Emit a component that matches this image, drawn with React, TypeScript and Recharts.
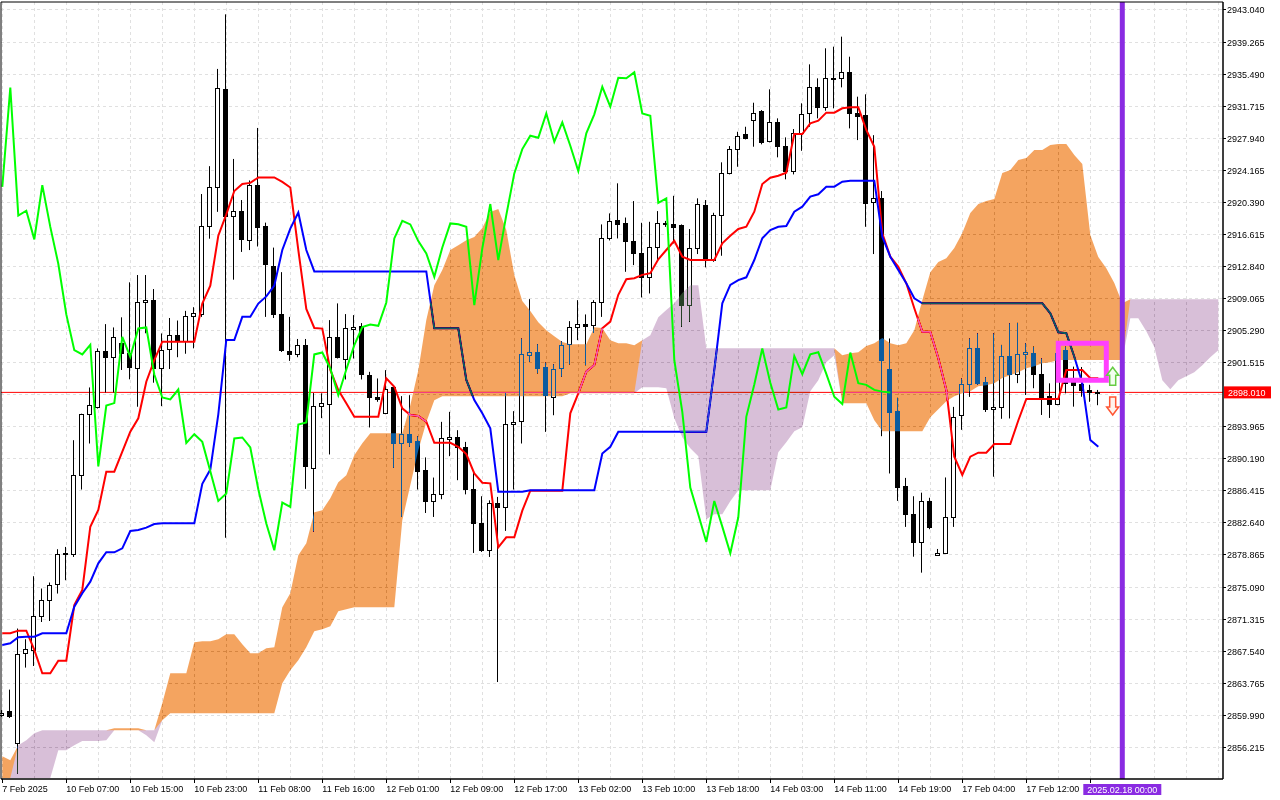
import React from "react";
import {
  ComposedChart,
  Bar,
  Line,
  Area,
  XAxis,
  YAxis,
  CartesianGrid,
  ReferenceLine,
  ReferenceArea,
  ReferenceDot,
} from "recharts";

// H1 candles, one entry per bar (index = bar number from the left edge)
const opens = [
  2860.0, 2860.45, 2856.72, 2867.37, 2867.72, 2871.65, 2873.61, 2875.5, 2879.0, 2879.03,
  2888.34, 2895.41, 2896.3, 2902.87, 2902.19, 2903.79, 2902.6, 2900.85, 2908.62, 2908.89,
  2900.9, 2903.07, 2904.8, 2904.03, 2906.98, 2907.19, 2917.58, 2922.21, 2933.7, 2918.84,
  2919.4, 2915.9, 2922.42, 2917.58, 2912.95, 2907.19, 2902.9, 2902.48, 2903.62, 2889.09,
  2896.46, 2896.59, 2904.48, 2902.0, 2905.46, 2905.81, 2900.04, 2897.48, 2895.53, 2898.66,
  2892.06, 2893.09, 2892.26, 2888.85, 2885.23, 2886.1, 2892.5, 2892.77, 2891.59, 2886.61,
  2882.57, 2879.5, 2885.0, 2884.52, 2894.23, 2894.62, 2902.4, 2902.71, 2900.95, 2897.48,
  2900.83, 2903.65, 2905.66, 2906.05, 2905.93, 2908.6, 2916.14, 2918.3, 2917.9, 2915.83,
  2914.38, 2911.55, 2915.08, 2917.98, 2917.83, 2917.71, 2908.29, 2914.97, 2920.07, 2913.6,
  2918.89, 2923.8, 2926.66, 2928.4, 2930.08, 2931.14, 2927.64, 2929.81, 2927.02, 2924.1,
  2928.51, 2930.87, 2934.0, 2931.65, 2935.06, 2935.06, 2935.7, 2930.87, 2930.67, 2920.46,
  2920.86, 2900.71, 2895.8, 2886.96, 2883.63, 2880.43, 2885.22, 2878.82, 2879.06, 2883.3,
  2895.32, 2898.94, 2903.2, 2899.27, 2896.0, 2896.3, 2902.3, 2900.15, 2902.5, 2902.68,
  2900.2, 2897.58, 2896.64, 2903.0, 2899.2, 2899.0, 2898.3, 2898.1,
];

const highs = [
  2860.6, 2863.01, 2870.2, 2868.94, 2876.36, 2874.91, 2875.62, 2879.54, 2879.81, 2892.38,
  2895.5, 2898.59, 2903.19, 2906.05, 2905.66, 2906.85, 2910.97, 2911.83, 2911.83, 2910.18,
  2904.95, 2906.77, 2906.47, 2907.61, 2908.04, 2921.37, 2924.65, 2936.1, 2942.53, 2925.5,
  2920.66, 2922.97, 2929.15, 2918.0, 2915.06, 2912.17, 2906.9, 2904.3, 2904.3, 2897.93,
  2897.9, 2906.52, 2908.49, 2907.23, 2907.11, 2906.17, 2900.43, 2899.65, 2900.63, 2898.86,
  2897.57, 2897.68, 2892.85, 2890.35, 2887.98, 2894.54, 2895.72, 2893.56, 2892.18, 2888.65,
  2885.78, 2885.3, 2885.7, 2897.95, 2895.8, 2904.36, 2908.99, 2903.69, 2901.53, 2901.33,
  2904.04, 2906.4, 2908.87, 2907.19, 2908.87, 2917.79, 2919.09, 2922.63, 2918.6, 2920.54,
  2917.98, 2918.1, 2919.36, 2918.2, 2921.16, 2917.79, 2917.24, 2920.86, 2920.66, 2919.16,
  2925.1, 2927.02, 2928.7, 2929.29, 2932.12, 2931.26, 2933.7, 2930.28, 2928.04, 2929.02,
  2932.05, 2936.64, 2934.99, 2938.53, 2938.72, 2939.9, 2937.54, 2932.83, 2933.11, 2928.3,
  2921.72, 2904.36, 2897.37, 2887.94, 2885.78, 2886.2, 2885.6, 2879.57, 2887.99, 2896.3,
  2899.65, 2904.36, 2904.97, 2899.8, 2904.97, 2903.6, 2906.15, 2906.2, 2903.8, 2903.4,
  2902.02, 2899.08, 2903.39, 2903.4, 2901.04, 2901.0, 2898.9, 2898.3,
];

const lows = [
  2859.8, 2859.66, 2853.11, 2865.6, 2865.79, 2870.97, 2871.09, 2874.32, 2875.89, 2878.63,
  2886.57, 2891.99, 2896.11, 2898.0, 2898.0, 2900.65, 2899.55, 2896.32, 2904.97, 2899.15,
  2896.39, 2900.76, 2902.15, 2902.56, 2903.2, 2906.9, 2916.11, 2919.27, 2880.89, 2911.28,
  2914.55, 2914.77, 2915.19, 2906.9, 2906.77, 2902.77, 2901.72, 2902.15, 2886.65, 2881.61,
  2894.98, 2890.7, 2902.0, 2899.53, 2902.0, 2899.53, 2893.88, 2896.9, 2895.44, 2889.12,
  2883.34, 2891.59, 2886.57, 2883.81, 2883.34, 2885.43, 2890.5, 2887.67, 2886.0, 2879.1,
  2879.22, 2878.63, 2863.9, 2881.7, 2886.57, 2891.99, 2901.6, 2900.24, 2893.36, 2895.32,
  2899.84, 2901.3, 2904.16, 2901.2, 2905.0, 2906.9, 2915.9, 2916.14, 2912.21, 2913.0,
  2909.19, 2909.66, 2913.6, 2917.5, 2915.55, 2905.73, 2906.32, 2914.3, 2912.73, 2913.39,
  2914.1, 2923.68, 2924.58, 2927.8, 2926.94, 2927.22, 2927.45, 2925.69, 2923.1, 2923.68,
  2926.46, 2929.29, 2930.28, 2931.18, 2931.46, 2933.93, 2929.1, 2927.72, 2917.51, 2914.3,
  2892.85, 2888.46, 2885.23, 2882.17, 2878.66, 2876.78, 2881.9, 2878.8, 2879.0, 2882.17,
  2893.6, 2897.48, 2898.9, 2895.7, 2888.08, 2894.9, 2894.94, 2899.1, 2897.7, 2898.5,
  2895.35, 2895.0, 2896.5, 2897.9, 2896.33, 2897.5, 2896.9, 2896.5,
];

const closes = [
  2860.3, 2859.9, 2867.25, 2867.76, 2871.65, 2873.61, 2875.38, 2878.92, 2879.1, 2888.34,
  2895.41, 2896.47, 2902.87, 2902.12, 2904.48, 2902.68, 2900.97, 2908.62, 2908.86, 2900.85,
  2903.05, 2904.8, 2904.03, 2907.06, 2907.4, 2917.58, 2922.21, 2933.91, 2918.84, 2919.4,
  2916.03, 2922.42, 2917.5, 2913.16, 2907.19, 2902.98, 2902.48, 2903.62, 2889.3, 2896.46,
  2896.75, 2904.55, 2902.19, 2905.54, 2905.66, 2900.12, 2897.41, 2897.18, 2898.35, 2892.06,
  2893.09, 2892.18, 2888.73, 2885.23, 2886.1, 2892.58, 2892.7, 2891.52, 2886.61, 2882.57,
  2879.42, 2885.04, 2884.52, 2894.23, 2894.47, 2902.48, 2902.71, 2900.83, 2897.68, 2900.71,
  2903.57, 2905.69, 2906.01, 2905.85, 2908.6, 2916.14, 2918.22, 2917.79, 2915.83, 2914.38,
  2911.62, 2915.08, 2917.91, 2917.8, 2917.51, 2908.29, 2914.97, 2920.19, 2913.6, 2918.89,
  2923.8, 2926.66, 2928.23, 2928.0, 2930.87, 2927.52, 2929.81, 2927.05, 2924.07, 2928.51,
  2930.75, 2934.0, 2931.65, 2935.06, 2935.0, 2935.7, 2930.87, 2930.59, 2920.34, 2920.86,
  2901.8, 2895.72, 2886.81, 2883.63, 2880.4, 2885.22, 2882.2, 2879.06, 2883.3, 2895.13,
  2898.94, 2903.18, 2899.15, 2896.0, 2896.24, 2902.3, 2900.15, 2902.5, 2902.73, 2900.2,
  2897.5, 2896.64, 2902.7, 2899.1, 2898.9, 2898.3, 2898.1, 2898.01,
];

// Ichimoku lines
const tenkan = [
  2869.64, 2869.64, 2869.95, 2869.95, 2867.68, 2864.93, 2864.93, 2866.41, 2866.41, 2872.97,
  2874.74, 2882.19, 2884.16, 2888.67, 2888.67, 2891.03, 2893.38, 2894.96, 2899.27, 2901.82,
  2903.98, 2903.98, 2903.98, 2903.98, 2903.98, 2908.47, 2910.57, 2916.46, 2918.98, 2921.73,
  2922.55, 2922.68, 2923.32, 2923.32, 2923.32, 2922.79, 2922.14, 2914.78, 2907.83, 2905.6,
  2905.52, 2900.65, 2898.29, 2896.72, 2895.15, 2895.15, 2895.15, 2895.15, 2899.67, 2898.68,
  2896.13, 2895.35, 2895.23, 2894.56, 2892.08, 2892.08, 2892.08, 2891.61, 2890.75, 2888.47,
  2887.37, 2887.3, 2879.76, 2880.94, 2880.94, 2884.09, 2886.44, 2886.44, 2886.44, 2886.44,
  2886.44, 2895.55, 2897.9, 2900.45, 2901.24, 2905.56, 2906.35, 2909.5, 2911.34, 2911.46,
  2911.85, 2912.05, 2913.68, 2914.78, 2915.87, 2913.99, 2913.6, 2913.6, 2913.6, 2913.6,
  2915.57, 2916.46, 2917.25, 2917.52, 2919.29, 2922.55, 2923.29, 2923.53, 2923.88, 2928.44,
  2928.44, 2929.7, 2930.0, 2930.95, 2930.95, 2931.46, 2931.58, 2931.58, 2928.91, 2926.94,
  2916.74, 2913.99, 2912.81, 2910.86, 2907.91, 2905.16, 2905.16, 2902.02, 2898.29, 2890.44,
  2888.28, 2890.44, 2890.91, 2890.91, 2891.93, 2891.93, 2891.93, 2894.7, 2897.23, 2897.23,
  2897.23, 2897.23, 2897.23, 2900.65, 2900.65, 2900.65, 2899.67, 2899.67,
];

const kijun = [
  2868.26, 2868.46, 2869.17, 2869.24, 2869.24, 2869.64, 2869.64, 2869.64, 2869.64, 2872.77,
  2874.35, 2875.72, 2877.88, 2879.18, 2879.18, 2879.65, 2881.69, 2881.8, 2882.08, 2882.51,
  2882.6, 2882.6, 2882.6, 2882.6, 2882.6, 2887.24, 2888.92, 2895.43, 2904.18, 2904.18,
  2906.91, 2906.91, 2908.47, 2909.31, 2910.58, 2914.78, 2917.3, 2919.19, 2914.78, 2912.26,
  2912.26, 2912.26, 2912.26, 2912.26, 2912.26, 2912.26, 2912.26, 2912.26, 2912.26, 2912.26,
  2912.26, 2912.26, 2912.26, 2912.26, 2905.55, 2905.55, 2905.55, 2905.55, 2899.47, 2897.11,
  2895.55, 2893.78, 2886.31, 2886.31, 2886.31, 2886.31, 2886.49, 2886.49, 2886.49, 2886.49,
  2886.49, 2886.49, 2886.49, 2886.49, 2886.49, 2890.82, 2891.6, 2893.38, 2893.38, 2893.38,
  2893.38, 2893.38, 2893.38, 2893.38, 2893.38, 2893.38, 2893.38, 2893.38, 2893.38, 2900.65,
  2908.5, 2910.66, 2911.24, 2911.56, 2913.6, 2916.16, 2917.13, 2917.52, 2917.6, 2919.29,
  2919.88, 2921.06, 2921.34, 2922.23, 2922.23, 2922.82, 2922.94, 2922.94, 2922.94, 2922.94,
  2916.35, 2913.99, 2912.42, 2910.86, 2909.09, 2908.5, 2908.5, 2908.5, 2908.5, 2908.5,
  2908.5, 2908.5, 2908.5, 2908.5, 2908.5, 2908.5, 2908.5, 2908.5, 2908.5, 2908.5,
  2908.5, 2907.32, 2905.09, 2904.97, 2902.21, 2899.08, 2892.4, 2891.61,
];

const chikou = [
  2922.21, 2933.91, 2918.84, 2919.4, 2916.03, 2922.42, 2917.5, 2913.16, 2907.19, 2902.98,
  2902.48, 2903.62, 2889.3, 2896.46, 2896.75, 2904.55, 2902.19, 2905.54, 2905.66, 2900.12,
  2897.41, 2897.18, 2898.35, 2892.06, 2893.09, 2892.18, 2888.73, 2885.23, 2886.1, 2892.58,
  2892.7, 2891.52, 2886.61, 2882.57, 2879.42, 2885.04, 2884.52, 2894.23, 2894.47, 2902.48,
  2902.71, 2900.83, 2897.68, 2900.71, 2903.57, 2905.69, 2906.01, 2905.85, 2908.6, 2916.14,
  2918.22, 2917.79, 2915.83, 2914.38, 2911.62, 2915.08, 2917.91, 2917.8, 2917.51, 2908.29,
  2914.97, 2920.19, 2913.6, 2918.89, 2923.8, 2926.66, 2928.23, 2928.0, 2930.87, 2927.52,
  2929.81, 2927.05, 2924.07, 2928.51, 2930.75, 2934.0, 2931.65, 2935.06, 2935.0, 2935.7,
  2930.87, 2930.59, 2920.34, 2920.86, 2901.8, 2895.72, 2886.81, 2883.63, 2880.4, 2885.22,
  2882.2, 2879.06, 2883.3, 2895.13, 2898.94, 2903.18, 2899.15, 2896.0, 2896.24, 2902.3,
  2900.15, 2902.5, 2902.73, 2900.2, 2897.5, 2896.64, 2902.7, 2899.1, 2898.9, 2898.3,
  2898.1, 2898.01,
];

// cloud edges, running 15 bars past the last candle
const spanA = [
  2855.15, 2854.68, 2852.6, 2852.6, 2852.6, 2852.6, 2852.6, 2855.86, 2855.86, 2856.45,
  2856.96, 2856.96, 2856.96, 2857.04, 2858.45, 2858.45, 2858.45, 2858.45, 2857.63, 2856.8,
  2861.4, 2864.93, 2864.93, 2864.93, 2868.58, 2868.7, 2868.7, 2868.94, 2869.52, 2869.52,
  2868.35, 2867.29, 2867.29, 2867.88, 2867.99, 2872.71, 2874.36, 2878.83, 2880.25, 2883.9,
  2884.13, 2885.55, 2887.43, 2888.26, 2890.61, 2892.03, 2893.21, 2893.21, 2893.21, 2893.21,
  2893.21, 2896.5, 2900.63, 2906.52, 2910.64, 2912.41, 2914.77, 2915.35, 2915.94, 2916.3,
  2917.36, 2919.24, 2919.6, 2917.12, 2911.82, 2908.76, 2907.58, 2906.28, 2905.34, 2904.63,
  2903.93, 2903.69, 2903.69, 2903.69, 2905.69, 2905.58, 2904.16, 2903.81, 2903.81, 2903.57,
  2898.62, 2898.62, 2898.62, 2898.51, 2894.97, 2892.73, 2891.44, 2890.5, 2883.07, 2883.66,
  2883.66, 2885.19, 2886.49, 2886.49, 2886.49, 2886.49, 2886.49, 2890.97, 2892.15, 2893.44,
  2893.91, 2898.15, 2899.45, 2901.57, 2902.39, 2902.39, 2902.63, 2902.75, 2903.46, 2903.81,
  2904.4, 2903.81, 2903.57, 2903.81, 2905.34, 2908.87, 2912.17, 2913.35, 2913.82, 2915.0,
  2916.77, 2919.12, 2920.18, 2920.54, 2920.77, 2923.84, 2924.19, 2925.37, 2925.6, 2926.55,
  2926.55, 2927.14, 2927.25, 2927.25, 2925.96, 2924.9, 2916.53, 2913.94, 2912.64, 2910.88,
  2908.52, 2906.75, 2906.75, 2905.22, 2903.34, 2899.45, 2898.39, 2899.45, 2899.92, 2900.39,
  2901.22, 2902.16, 2902.98,
];

const spanB = [
  2852.6, 2852.6, 2856.45, 2857.04, 2857.86, 2858.22, 2858.22, 2858.22, 2858.22, 2858.22,
  2858.22, 2858.22, 2858.22, 2858.22, 2858.22, 2858.22, 2858.22, 2858.22, 2858.22, 2858.22,
  2859.39, 2860.22, 2860.22, 2860.22, 2860.22, 2860.22, 2860.22, 2860.22, 2860.22, 2860.22,
  2860.22, 2860.22, 2860.22, 2860.22, 2860.22, 2863.75, 2865.28, 2866.46, 2867.99, 2869.88,
  2870.11, 2870.47, 2872.23, 2872.47, 2872.71, 2872.71, 2872.71, 2872.71, 2872.71, 2872.71,
  2882.96, 2887.08, 2891.2, 2894.5, 2897.09, 2897.56, 2897.56, 2897.56, 2897.56, 2897.56,
  2897.56, 2897.56, 2897.56, 2897.56, 2897.56, 2897.56, 2897.56, 2897.56, 2897.56, 2897.56,
  2897.56, 2897.92, 2897.92, 2897.92, 2897.92, 2897.92, 2897.92, 2897.92, 2897.92, 2897.92,
  2904.16, 2904.75, 2906.87, 2907.7, 2908.52, 2909.7, 2910.64, 2910.64, 2903.22, 2903.22,
  2903.22, 2903.22, 2903.22, 2903.22, 2903.22, 2903.22, 2903.22, 2903.22, 2903.22, 2903.22,
  2903.22, 2903.22, 2903.22, 2903.22, 2903.22, 2896.74, 2896.74, 2896.74, 2896.74, 2894.74,
  2893.44, 2893.44, 2893.44, 2893.44, 2893.44, 2893.44, 2895.09, 2896.03, 2896.98, 2897.56,
  2897.92, 2898.15, 2898.74, 2898.86, 2899.1, 2899.69, 2900.04, 2900.39, 2900.86, 2901.1,
  2901.45, 2901.57, 2901.81, 2901.81, 2901.81, 2901.81, 2901.81, 2901.81, 2901.81, 2901.81,
  2901.81, 2908.99, 2908.99, 2908.99, 2908.99, 2908.99, 2908.99, 2908.99, 2908.99, 2908.99,
  2908.99, 2908.99, 2908.99,
];

const priceTicks = [
  2943.04, 2939.265, 2935.49, 2931.715, 2927.94, 2924.165, 2920.39, 2916.615,
  2912.84, 2909.065, 2905.29, 2901.515, 2897.74, 2893.965, 2890.19, 2886.415,
  2882.64, 2878.865, 2875.09, 2871.315, 2867.54, 2863.765, 2859.99, 2856.215,
];

const timeTicks = [0, 8, 16, 24, 32, 40, 48, 56, 64, 72, 80, 88, 96, 104, 112, 120, 128, 136, 140];
const timeLabels: Record<number, string> = {
  0: "7 Feb 2025",
  8: "10 Feb 07:00",
  16: "10 Feb 15:00",
  24: "10 Feb 23:00",
  32: "11 Feb 08:00",
  40: "11 Feb 16:00",
  48: "12 Feb 01:00",
  56: "12 Feb 09:00",
  64: "12 Feb 17:00",
  72: "13 Feb 02:00",
  80: "13 Feb 10:00",
  88: "13 Feb 18:00",
  96: "14 Feb 03:00",
  104: "14 Feb 11:00",
  112: "14 Feb 19:00",
  120: "17 Feb 04:00",
  128: "17 Feb 12:00",
};
const gridBars = [
  0, 4, 8, 12, 16, 20, 24, 28, 32, 36, 40, 44, 48, 52, 56, 60, 64, 68, 72, 76,
  80, 84, 88, 92, 96, 100, 104, 108, 112, 116, 120, 124, 128, 132, 136, 140, 144, 148, 152,
];

const lastPrice = 2898.01;
const markerBar = 140;
const markerLabel = "2025.02.18 00:00";

const X_MIN = -0.1625;
const X_MAX = 152.5875;
const Y_MIN = 2852.482;
const Y_MAX = 2943.982;

const FONT = "'Liberation Sans', Arial, sans-serif";

// both halves of the cloud collapse onto span B where they are inactive,
// so the two fills meet along one edge instead of overlapping
const data = spanA.map((a, k) => {
  const b = spanB[k];
  return {
    k,
    o: opens[k],
    h: highs[k],
    l: lows[k],
    c: closes[k],
    tenkan: tenkan[k],
    kijun: kijun[k],
    chikou: chikou[k],
    bull: a > b ? [b, a] : [b, b],
    bear: a < b ? [a, b] : [b, b],
  };
});

function Candle(props: any) {
  const { x, y, width, height, payload } = props;
  if (!payload || payload.h == null || !Number.isFinite(y)) return <g />;
  const top = Math.min(y, y + height);
  const bottom = Math.max(y, y + height);
  const span = payload.h - payload.l || 1;
  const py = (p: number) => top + ((payload.h - p) / span) * (bottom - top);
  const cx = Math.floor(x + width / 2) + 0.5;
  const yo = py(payload.o);
  const yc = py(payload.c);
  const bTop = Math.round(Math.min(yo, yc)) + 0.5;
  const bBot = Math.max(Math.round(Math.max(yo, yc)) + 0.5, bTop + 1);
  const up = payload.c >= payload.o;
  return (
    <g>
      <line x1={cx} x2={cx} y1={top} y2={bottom} stroke="#000" strokeWidth={1} />
      <rect
        x={cx - 2}
        y={bTop}
        width={4}
        height={bBot - bTop}
        fill={up ? "#fff" : "#000"}
        stroke="#000"
        strokeWidth={1}
      />
    </g>
  );
}

function PriceTick(props: any) {
  const { x, y, payload } = props;
  const v = payload.value as number;
  if (Math.abs(v - lastPrice) < 1.2) return <g />;
  const yy = Math.floor(y) + 0.5;
  return (
    <g>
      <line x1={x} x2={x + 3} y1={yy} y2={yy} stroke="#000" />
      <text x={x + 4} y={y + 3.5} fontSize={9} fontFamily={FONT} fill="#000">
        {v.toFixed(3)}
      </text>
    </g>
  );
}

function TimeTick(props: any) {
  const { x, y, payload } = props;
  const v = payload.value as number;
  if (v === markerBar) {
    return (
      <g>
        <rect x={x - 39} y={y + 5} width={78} height={11} fill="#8a2be2" />
        <text x={x} y={y + 14} textAnchor="middle" fontSize={9} fontFamily={FONT} fill="#fff">
          {markerLabel}
        </text>
      </g>
    );
  }
  const xx = Math.floor(x) + 0.5;
  return (
    <g>
      <line x1={xx} x2={xx} y1={y} y2={y + 4} stroke="#000" />
      <text x={x} y={y + 13} fontSize={9} fontFamily={FONT} fill="#000">
        {timeLabels[v] ?? ""}
      </text>
    </g>
  );
}

function PriceTag(props: any) {
  const vb = props.viewBox || {};
  const x = (vb.x ?? 0) + (vb.width ?? 0) + 1;
  const y = vb.y ?? 0;
  return (
    <g>
      <rect x={x} y={y - 6} width={47} height={12} fill="#ff0000" />
      <text x={x + 4} y={y + 3.5} fontSize={9} fontFamily={FONT} fill="#fff">
        {lastPrice.toFixed(3)}
      </text>
    </g>
  );
}

function UpArrow(props: any) {
  const { cx, cy } = props;
  const d = `M${cx},${cy} L${cx + 6},${cy + 8} L${cx + 3},${cy + 8} L${cx + 3},${cy + 18} L${cx - 3},${cy + 18} L${cx - 3},${cy + 8} L${cx - 6},${cy + 8} Z`;
  return <path d={d} fill="#f2fff0" stroke="#66cc44" strokeWidth={1.5} />;
}

function DownArrow(props: any) {
  const { cx, cy } = props;
  const d = `M${cx},${cy} L${cx + 6},${cy - 8} L${cx + 3},${cy - 8} L${cx + 3},${cy - 18} L${cx - 3},${cy - 18} L${cx - 3},${cy - 8} L${cx - 6},${cy - 8} Z`;
  return <path d={d} fill="#fff3ec" stroke="#ff5533" strokeWidth={1.5} />;
}

const vGrid = (args: any) => {
  const off = args.offset || { left: 1, width: 1222 };
  return gridBars.map(
    (k) => Math.floor(off.left + ((k - X_MIN) / (X_MAX - X_MIN)) * off.width) + 0.5
  );
};

const hGrid = (args: any) => {
  const off = args.offset || { top: 2, height: 777 };
  return priceTicks.map(
    (p) => Math.floor(off.top + ((Y_MAX - p) / (Y_MAX - Y_MIN)) * off.height) + 0.5
  );
};

export default function App() {
  return (
    <div style={{ position: "absolute", left: 0, top: 0, width: 1280, height: 800, background: "#fff" }}>
      <style>{`.xor-cloud { mix-blend-mode: difference; }`}</style>
      <ComposedChart
        width={1280}
        height={800}
        data={data}
        margin={{ top: 2, right: 0, bottom: 0, left: 1 }}
      >
        <CartesianGrid
          stroke="#e0e0e0"
          strokeDasharray="3 3"
          fill="#fff"
          verticalCoordinatesGenerator={vGrid}
          horizontalCoordinatesGenerator={hGrid}
        />
        <XAxis
          dataKey="k"
          type="number"
          domain={[X_MIN, X_MAX]}
          ticks={timeTicks}
          interval={0}
          height={21}
          tickLine={false}
          tickSize={0}
          tickMargin={0}
          axisLine={{ stroke: "#000" }}
          tick={<TimeTick />}
        />
        <YAxis
          orientation="right"
          type="number"
          domain={[Y_MIN, Y_MAX]}
          ticks={priceTicks}
          interval={0}
          width={57}
          tickLine={false}
          tickSize={0}
          tickMargin={0}
          axisLine={{ stroke: "#000" }}
          tick={<PriceTick />}
        />
        <ReferenceLine y={lastPrice} stroke="#ff0000" strokeWidth={1} label={<PriceTag />} zIndex={150} />
        <Bar
          dataKey={(d: any) => (d.h == null ? null : [d.l, d.h])}
          barSize={5}
          shape={<Candle />}
          isAnimationActive={false}
          zIndex={200}
        />
        <Line
          dataKey="tenkan"
          stroke="#ff0000"
          strokeWidth={2}
          dot={false}
          activeDot={false}
          isAnimationActive={false}
          zIndex={210}
        />
        <Line
          dataKey="kijun"
          stroke="#0000ff"
          strokeWidth={2}
          dot={false}
          activeDot={false}
          isAnimationActive={false}
          zIndex={220}
        />
        <Area
          dataKey="bull"
          type="linear"
          stroke="none"
          fill="#0b5b9f"
          fillOpacity={1}
          className="xor-cloud"
          dot={false}
          activeDot={false}
          isAnimationActive={false}
          zIndex={300}
        />
        <Area
          dataKey="bear"
          type="linear"
          stroke="none"
          fill="#274027"
          fillOpacity={1}
          className="xor-cloud"
          dot={false}
          activeDot={false}
          isAnimationActive={false}
          zIndex={310}
        />
        <Line
          dataKey="chikou"
          stroke="#00ff00"
          strokeWidth={2}
          dot={false}
          activeDot={false}
          isAnimationActive={false}
          zIndex={400}
        />
        <ReferenceLine x={markerBar} stroke="#8a2be2" strokeWidth={5} zIndex={450} />
        <ReferenceArea
          x1={132}
          x2={138}
          y1={2899.44}
          y2={2903.8}
          fill="none"
          fillOpacity={0}
          stroke="#ff40ff"
          strokeWidth={5}
          zIndex={460}
        />
        <ReferenceDot x={138.8} y={2900.97} r={0} shape={<UpArrow />} zIndex={470} />
        <ReferenceDot x={138.8} y={2895.35} r={0} shape={<DownArrow />} zIndex={470} />
        <ReferenceArea
          x1={X_MIN}
          x2={X_MAX}
          y1={Y_MIN}
          y2={Y_MAX}
          fill="none"
          fillOpacity={0}
          stroke="#000"
          strokeWidth={1}
          zIndex={480}
        />
      </ComposedChart>
    </div>
  );
}
